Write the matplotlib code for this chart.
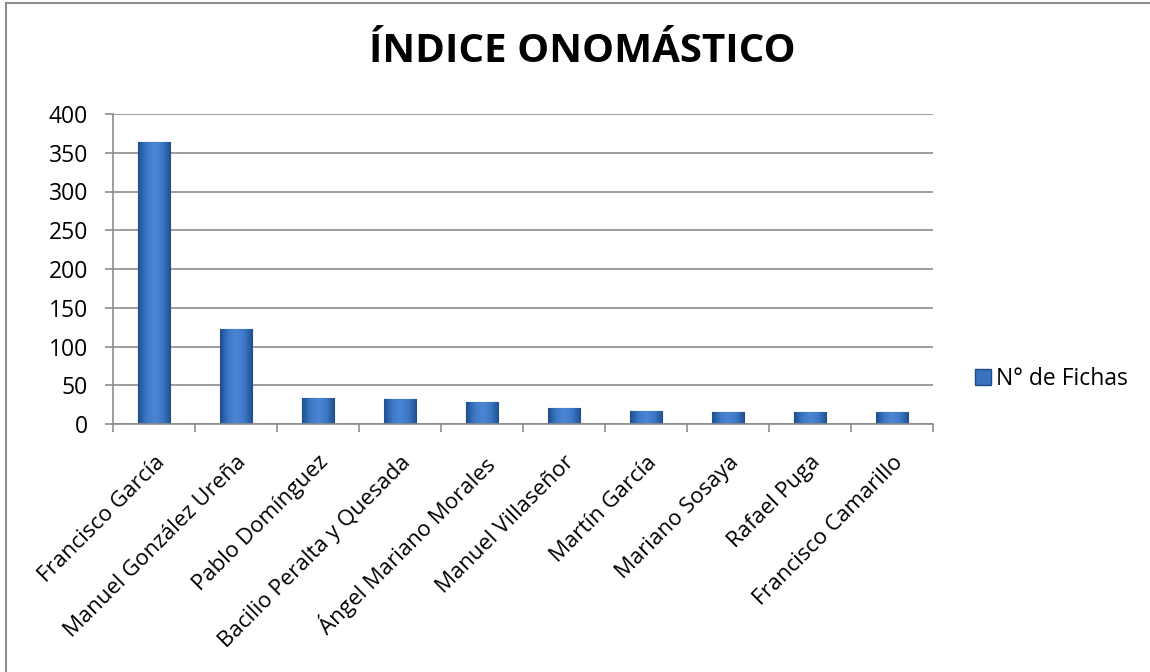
import matplotlib.pyplot as plt
import matplotlib.lines as mlines
import numpy as np
from matplotlib.colors import LinearSegmentedColormap

NAMES = ['Francisco García', 'Manuel González Ureña', 'Pablo Domínguez',
         'Bacilio Peralta y Quesada', 'Ángel Mariano Morales', 'Manuel Villaseñor',
         'Martín García', 'Mariano Sosaya', 'Rafael Puga', 'Francisco Camarillo']
FICHAS = [364, 122, 34, 32, 28, 21, 17, 16, 16, 15]
SERIES_LABEL = 'N° de Fichas'
TITLE = 'ÍNDICE ONOMÁSTICO'

plt.rcParams['font.family'] = ['Open Sans', 'DejaVu Sans']

fig = plt.figure(figsize=(11.5, 6.72), dpi=100)
ax = fig.add_axes([113 / 1150, 1 - 424 / 672, 820 / 1150, 310 / 672])

x = np.arange(len(NAMES))
width = 0.4
bars = ax.bar(x, FICHAS, width=width, color='#3a73bd', edgecolor='#1f4a86',
              linewidth=0.8, label=SERIES_LABEL, zorder=2)

# horizontal gradient on each bar, dark at the sides, light in the middle
cmap = LinearSegmentedColormap.from_list('bevel', ['#1f4f8f', '#3c78c6', '#4a86d4', '#3c78c6', '#1f4f8f'])
grad = np.linspace(0, 1, 64).reshape(1, -1)
for b in bars:
    im = ax.imshow(grad, cmap=cmap, aspect='auto', zorder=2.5,
                   extent=(b.get_x(), b.get_x() + b.get_width(), 0, b.get_height()))
    im.set_clip_path(b)

ax.set_xlim(-0.5, len(NAMES) - 0.5)
ax.set_ylim(0, 400)
ax.set_yticks(np.arange(0, 401, 50))
ax.yaxis.grid(True, color='#8c8c8c', linewidth=1.2, zorder=0)
ax.set_axisbelow(True)

ax.set_xticks(x)
ax.set_xticklabels(NAMES, rotation=45, ha='right', rotation_mode='anchor', fontsize=16)
ax.set_xticks(np.arange(-0.5, len(NAMES)), minor=True)
ax.tick_params(axis='x', which='major', length=0, pad=20)
ax.tick_params(axis='x', which='minor', length=6, color='#8c8c8c', width=1.2)
ax.tick_params(axis='y', length=6, color='#8c8c8c', width=1.2, labelsize=16.5, pad=12)

for s in ['top', 'right']:
    ax.spines[s].set_visible(False)
for s in ['left', 'bottom']:
    ax.spines[s].set_color('#8c8c8c')
    ax.spines[s].set_linewidth(1.2)

fig.text(582 / 1150, 1 - 52 / 672, TITLE, ha='center', va='center',
         fontsize=29, fontweight='bold')

handle = mlines.Line2D([], [], marker='s', linestyle='none', markersize=11,
                       markerfacecolor='#3a73bd', markeredgecolor='#1f4a86')
fig.legend([handle], [SERIES_LABEL], loc='center left', frameon=False,
           bbox_to_anchor=(972 / 1150, 1 - 379 / 672), fontsize=16.5,
           handletextpad=0.05, handlelength=1.0, borderaxespad=0, borderpad=0)

fig.add_artist(mlines.Line2D([0.005, 0.005], [0, 0.996], color='#8c8c8c', linewidth=1.5,
                             transform=fig.transFigure))
fig.add_artist(mlines.Line2D([0.005, 1], [0.996, 0.996], color='#8c8c8c', linewidth=1.5,
                             transform=fig.transFigure))

fig.savefig('out.png', dpi=100)
